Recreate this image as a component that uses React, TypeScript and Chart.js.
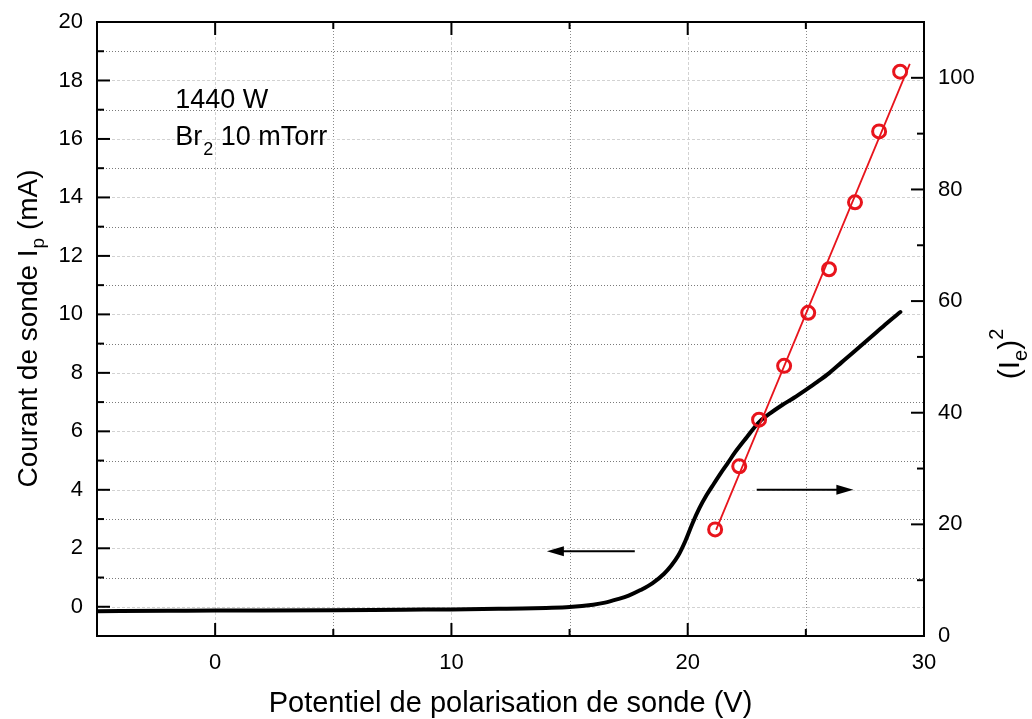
import React, { useEffect, useRef } from 'react';
import { Chart, registerables } from 'chart.js';

Chart.register(...registerables);

// ---- data ----
const probeVoltage = [-5, -2, 0, 2, 5, 8, 10, 12, 13, 14, 15, 16, 16.5, 17, 17.5, 18, 18.5, 19, 19.3, 19.6, 19.9, 20.2, 20.5, 20.8, 21.1, 21.4, 21.7, 22, 22.5, 23, 23.5, 24, 24.5, 25, 25.5, 26, 26.5, 27, 27.5, 28, 28.5, 29];
const probeCurrent = [-0.15, -0.14, -0.13, -0.13, -0.12, -0.1, -0.09, -0.07, -0.06, -0.04, -0.01, 0.07, 0.14, 0.25, 0.38, 0.57, 0.8, 1.13, 1.4, 1.75, 2.25, 2.85, 3.38, 3.82, 4.2, 4.57, 4.92, 5.28, 5.8, 6.3, 6.62, 6.9, 7.15, 7.42, 7.7, 8.0, 8.35, 8.7, 9.05, 9.4, 9.75, 10.08];

const electronVoltage = [21.16, 22.18, 23.02, 24.08, 25.1, 25.98, 27.08, 28.1, 28.99];
const electronSquared = [19.1, 30.4, 38.75, 48.4, 57.9, 65.7, 77.7, 90.4, 101.1];

const fitLineVoltage = [21.2, 29.4];
const fitLineValue = [19.0, 102.5];

const xMajorLabels = [0, 10, 20, 30];
const yLeftMajorLabels = [0, 2, 4, 6, 8, 10, 12, 14, 16, 18, 20];
const yRightMajorLabels = [0, 20, 40, 60, 80, 100];

// arrows (data coordinates on left axis)
const leftArrowX = [17.76, 14.04];
const leftArrowY = [1.9, 1.9];
const rightArrowX = [22.92, 27.01];
const rightArrowY = [4.0, 4.0];

// annotation anchor (data coords, left axis)
const annotationX = -1.69;
const annotationY = [17.05, 15.8];
const annotationPower = '1440 W';
const annotationGas = 'Br';
const annotationGasSub = '2';
const annotationPressure = ' 10 mTorr';

const xTitle = 'Potentiel de polarisation de sonde (V)';
const yTitleMain = 'Courant de sonde I';
const yTitleSub = 'p';
const yTitleEnd = ' (mA)';

const FONT = "'Liberation Sans', Arial, sans-serif";
const RED = '#e8141c';

const originPlugin = {
  id: 'originStyle',
  beforeDatasetsDraw(chart: any) {
    const { ctx, chartArea: a, scales } = chart;
    const sx = scales.x;
    const sy = scales.y;
    ctx.save();
    ctx.lineWidth = 1;
    for (const t of sx.ticks) {
      const v = t.value;
      if (v <= sx.min || v >= sx.max) continue;
      const px = Math.round(sx.getPixelForValue(v)) + 0.5;
      const major = xMajorLabels.includes(v);
      ctx.setLineDash(major ? [3, 2] : [1, 2]);
      ctx.strokeStyle = major ? '#d2d2d2' : '#8a8a8a';
      ctx.beginPath();
      ctx.moveTo(px, a.top);
      ctx.lineTo(px, a.bottom);
      ctx.stroke();
    }
    for (const t of sy.ticks) {
      const v = t.value;
      if (v <= sy.min || v >= sy.max) continue;
      const py = Math.round(sy.getPixelForValue(v)) + 0.5;
      const major = yLeftMajorLabels.includes(v);
      ctx.setLineDash(major ? [3, 2] : [1, 2]);
      ctx.strokeStyle = major ? '#d2d2d2' : '#7a7a7a';
      ctx.beginPath();
      ctx.moveTo(a.left, py);
      ctx.lineTo(a.right, py);
      ctx.stroke();
    }
    ctx.restore();
  },
  afterDatasetsDraw(chart: any) {
    const { ctx, chartArea: a, scales } = chart;
    const sx = scales.x;
    const sy = scales.y;
    const sy2 = scales.y2;
    ctx.save();
    ctx.setLineDash([]);
    ctx.strokeStyle = '#000';
    ctx.fillStyle = '#000';

    const arrow = (xs: number[], ys: number[]) => {
      const x0 = sx.getPixelForValue(xs[0]);
      const x1 = sx.getPixelForValue(xs[1]);
      const y0 = sy.getPixelForValue(ys[0]);
      const y1 = sy.getPixelForValue(ys[1]);
      const dir = Math.sign(x1 - x0);
      ctx.lineWidth = 2;
      ctx.beginPath();
      ctx.moveTo(x0, y0);
      ctx.lineTo(x1 - dir * 10, y1);
      ctx.stroke();
      ctx.beginPath();
      ctx.moveTo(x1, y1);
      ctx.lineTo(x1 - dir * 17, y1 - 5);
      ctx.lineTo(x1 - dir * 17, y1 + 5);
      ctx.closePath();
      ctx.fill();
    };
    arrow(leftArrowX, leftArrowY);
    arrow(rightArrowX, rightArrowY);

    ctx.lineWidth = 2;
    ctx.strokeRect(a.left, a.top, a.right - a.left, a.bottom - a.top);

    const MAJ = 13;
    const MIN = 7;
    for (const t of sx.ticks) {
      const v = t.value;
      const px = sx.getPixelForValue(v);
      const len = xMajorLabels.includes(v) ? MAJ : MIN;
      ctx.beginPath();
      ctx.moveTo(px, a.bottom);
      ctx.lineTo(px, a.bottom - len);
      ctx.moveTo(px, a.top);
      ctx.lineTo(px, a.top + len);
      ctx.stroke();
    }
    for (const t of sy.ticks) {
      const v = t.value;
      const py = sy.getPixelForValue(v);
      const len = yLeftMajorLabels.includes(v) ? MAJ : MIN;
      ctx.beginPath();
      ctx.moveTo(a.left, py);
      ctx.lineTo(a.left + len, py);
      ctx.stroke();
    }
    for (const t of sy2.ticks) {
      const v = t.value;
      const py = sy2.getPixelForValue(v);
      const len = yRightMajorLabels.includes(v) ? MAJ : MIN;
      ctx.beginPath();
      ctx.moveTo(a.right, py);
      ctx.lineTo(a.right - len, py);
      ctx.stroke();
    }

    // annotation
    const ax = sx.getPixelForValue(annotationX);
    const ay1 = sy.getPixelForValue(annotationY[0]);
    const ay2 = sy.getPixelForValue(annotationY[1]);
    ctx.textBaseline = 'alphabetic';
    ctx.textAlign = 'left';
    ctx.font = `27px ${FONT}`;
    ctx.fillText(annotationPower, ax, ay1);
    ctx.fillText(annotationGas, ax, ay2);
    let cx = ax + ctx.measureText(annotationGas).width + 1;
    ctx.font = `18px ${FONT}`;
    ctx.fillText(annotationGasSub, cx, ay2 + 10);
    cx += ctx.measureText(annotationGasSub).width;
    ctx.font = `27px ${FONT}`;
    ctx.fillText(annotationPressure, cx, ay2);

    // x title
    ctx.font = `29px ${FONT}`;
    ctx.textAlign = 'center';
    ctx.fillText(xTitle, (a.left + a.right) / 2, 712);

    // left y title (rotated)
    ctx.save();
    ctx.translate(37, (a.top + a.bottom) / 2);
    ctx.rotate(-Math.PI / 2);
    ctx.textAlign = 'left';
    ctx.font = `28px ${FONT}`;
    const w1 = ctx.measureText(yTitleMain).width;
    const w3 = ctx.measureText(yTitleEnd).width;
    ctx.font = `19px ${FONT}`;
    const w2 = ctx.measureText(yTitleSub).width;
    let lx = -(w1 + w2 + w3) / 2;
    ctx.font = `28px ${FONT}`;
    ctx.fillText(yTitleMain, lx, 0);
    lx += w1 + 1;
    ctx.font = `19px ${FONT}`;
    ctx.fillText(yTitleSub, lx, 7);
    lx += w2;
    ctx.font = `28px ${FONT}`;
    ctx.fillText(yTitleEnd, lx, 0);
    ctx.restore();

    // right y title (I_e)^2 rotated
    ctx.save();
    ctx.translate(1019, 354);
    ctx.rotate(-Math.PI / 2);
    ctx.textAlign = 'left';
    const parts: [string, number, number][] = [
      ['(I', 30, 0],
      ['e', 20, 8],
      [')', 30, 0],
      ['2', 20, -16],
    ];
    let total = 0;
    for (const [s, f] of parts) {
      ctx.font = `${f}px ${FONT}`;
      total += ctx.measureText(s).width;
    }
    let rx = -total / 2;
    for (const [s, f, dy] of parts) {
      ctx.font = `${f}px ${FONT}`;
      ctx.fillText(s, rx, dy);
      rx += ctx.measureText(s).width;
    }
    ctx.restore();

    ctx.restore();
  },
};

export default function App() {
  const ref = useRef<HTMLCanvasElement>(null);
  useEffect(() => {
    if (!ref.current) return;
    const tickFont = { family: FONT, size: 22 };
    const chart = new Chart(ref.current, {
      type: 'line',
      data: {
        datasets: [
          {
            label: '(Ie)^2 points',
            data: electronVoltage.map((x, i) => ({ x, y: electronSquared[i] })),
            yAxisID: 'y2',
            showLine: false,
            pointStyle: 'circle',
            pointRadius: 6.5,
            pointBorderWidth: 3,
            pointBorderColor: RED,
            pointBackgroundColor: 'rgba(0,0,0,0)',
            borderColor: RED,
          },
          {
            label: '(Ie)^2 fit',
            data: fitLineVoltage.map((x, i) => ({ x, y: fitLineValue[i] })),
            yAxisID: 'y2',
            borderColor: RED,
            borderWidth: 1.8,
            pointRadius: 0,
          },
          {
            label: 'Ip',
            data: probeVoltage.map((x, i) => ({ x, y: probeCurrent[i] })),
            yAxisID: 'y',
            borderColor: '#000',
            borderWidth: 4,
            pointRadius: 0,
            cubicInterpolationMode: 'monotone',
            borderCapStyle: 'round',
          },
        ],
      },
      options: {
        responsive: false,
        animation: false,
        devicePixelRatio: 1,
        layout: { padding: { top: 22, left: 0, right: 0, bottom: 0 } },
        plugins: { legend: { display: false }, tooltip: { enabled: false } },
        scales: {
          x: {
            type: 'linear',
            min: -5,
            max: 30,
            grid: { display: false, drawTicks: false },
            border: { display: false },
            ticks: {
              stepSize: 5,
              autoSkip: false,
              maxRotation: 0,
              padding: 14,
              color: '#000',
              font: tickFont,
              callback: (v: any) => (xMajorLabels.includes(Number(v)) ? String(v) : ''),
            },
            afterFit: (s: any) => {
              s.height = 83;
              s.paddingLeft = 0;
              s.paddingRight = 0;
            },
          },
          y: {
            type: 'linear',
            position: 'left',
            min: -1,
            max: 20,
            grid: { display: false, drawTicks: false },
            border: { display: false },
            ticks: {
              stepSize: 1,
              autoSkip: false,
              padding: 14,
              color: '#000',
              font: tickFont,
              callback: (v: any) => (yLeftMajorLabels.includes(Number(v)) ? String(v) : ''),
            },
            afterFit: (s: any) => {
              s.width = 97;
              s.paddingTop = 0;
              s.paddingBottom = 0;
            },
          },
          y2: {
            type: 'linear',
            position: 'right',
            min: 0,
            max: 110,
            grid: { display: false, drawTicks: false },
            border: { display: false },
            ticks: {
              stepSize: 10,
              autoSkip: false,
              padding: 14,
              color: '#000',
              font: tickFont,
              callback: (v: any) => (yRightMajorLabels.includes(Number(v)) ? String(v) : ''),
            },
            afterFit: (s: any) => {
              s.width = 108;
              s.paddingTop = 0;
              s.paddingBottom = 0;
            },
          },
        },
      },
      plugins: [originPlugin],
    } as any);
    return () => chart.destroy();
  }, []);
  return (
    <div style={{ position: 'fixed', left: 0, top: 0, width: 1032, height: 719, background: '#fff' }}>
      <canvas ref={ref} width={1032} height={719} style={{ display: 'block', width: 1032, height: 719 }} />
    </div>
  );
}
